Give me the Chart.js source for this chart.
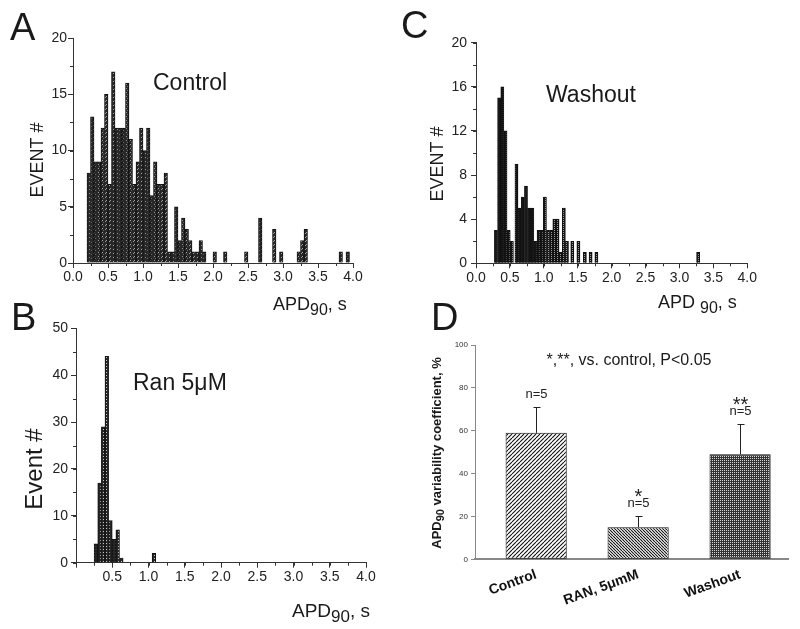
<!DOCTYPE html>
<html>
<head>
<meta charset="utf-8">
<script src="https://cdn.jsdelivr.net/npm/chart.js@4.4.0/dist/chart.umd.min.js"></script>
<style>
  body { margin: 0; background: #fff; }
  #wrap { position: relative; width: 800px; height: 629px; overflow: hidden; }
  canvas { position: absolute; }
</style>
</head>
<body>
<div id="wrap">
  <canvas id="chartA" width="400" height="320" style="left:0;top:0"></canvas>
  <canvas id="chartC" width="400" height="320" style="left:400px;top:0"></canvas>
  <canvas id="chartB" width="400" height="339" style="left:0;top:290px"></canvas>
  <canvas id="chartD" width="400" height="339" style="left:400px;top:290px"></canvas>
</div>
<script>
// ---- data ----
// panel A, control: bin centres (s) and event counts
var controlCenters = [0.225, 0.275, 0.325, 0.375, 0.425, 0.475, 0.525, 0.575, 0.625, 0.675,
  0.725, 0.775, 0.825, 0.875, 0.925, 0.975, 1.025, 1.075, 1.125, 1.175,
  1.225, 1.275, 1.325, 1.375, 1.425, 1.475, 1.525, 1.575, 1.625, 1.675,
  1.725, 1.775, 1.825, 1.875, 2.025, 2.175, 2.475, 2.675, 2.875, 2.975,
  3.225, 3.275, 3.325, 3.825, 3.925];
var controlCounts = [8, 13, 9, 9, 12, 15, 7, 17, 12, 12,
  12, 16, 11, 7, 9, 12, 10, 12, 6, 9,
  7, 7, 8, 1, 1, 5, 2, 4, 3, 2,
  1, 1, 2, 1, 1, 1, 1, 4, 3, 1,
  1, 2, 3, 1, 1];

// panel B, ranolazine 5 uM
var ranCenters = [0.275, 0.325, 0.375, 0.425, 0.475, 0.525, 0.575, 0.625, 1.075];
var ranCounts = [4, 17, 29, 44, 9, 5, 7, 1, 2];

// panel C, washout
var washoutCenters = [0.294, 0.341, 0.388, 0.435, 0.482, 0.529,
  0.597, 0.644, 0.690, 0.737, 0.783, 0.830, 0.876, 0.923, 0.969, 1.016,
  1.062, 1.109, 1.155, 1.202, 1.248, 1.295, 1.341,
  1.420, 1.510, 1.605, 1.690, 1.775, 3.275];
var washoutCounts = [3, 15, 16, 12, 3, 2,
  9, 5, 6, 7, 5, 5, 2, 3, 3, 6,
  3, 3, 4, 4, 1, 5, 2,
  2, 2, 1, 1, 1, 1];

// axis ticks
var apdTicks = [0, 0.5, 1, 1.5, 2, 2.5, 3, 3.5, 4];
var yTicksA = [0, 5, 10, 15, 20];
var yTicksB = [0, 10, 20, 30, 40, 50];
var yTicksC = [0, 4, 8, 12, 16, 20];

// panel D, variability coefficient
var dLabels = ['Control', 'RAN, 5\u03bcmM', 'Washout'];
var dMeans = [59, 15, 49];
var dSem = [12, 5.3, 14];
var dN = [5, 5, 5];
var dStars = ['', '*', '**'];
var yTicksD = [0, 20, 40, 60, 80, 100];

// ---- helpers ----
var FONT = 'Liberation Sans, Arial, Helvetica, sans-serif';

function pattern(w, h, draw) {
  var c = document.createElement('canvas');
  c.width = w; c.height = h;
  var g = c.getContext('2d');
  draw(g);
  return g.createPattern(c, 'repeat');
}

// dark histogram fills
var fillControl = pattern(4, 4, function (g) {
  g.fillStyle = '#262626'; g.fillRect(0, 0, 4, 4);
  g.fillStyle = '#a8a8a8'; g.fillRect(2, 0, 1, 1); g.fillRect(1, 1, 1, 1);
  g.fillStyle = '#6a6a6a'; g.fillRect(3, 2, 1, 1);
});
var fillRan = pattern(3, 3, function (g) {
  g.fillStyle = '#262626'; g.fillRect(0, 0, 3, 3);
  g.fillStyle = '#c8c8c8'; g.fillRect(1, 1, 1, 1);
});
var fillWash = pattern(3, 2, function (g) {
  g.fillStyle = '#151515'; g.fillRect(0, 0, 3, 2);
  g.fillStyle = '#9a9a9a'; g.fillRect(1, 0, 1, 1);
});

function stripes(step, dir, lineColor) {
  return pattern(step, step, function (g) {
    g.fillStyle = '#fff'; g.fillRect(0, 0, step, step);
    g.strokeStyle = lineColor; g.lineWidth = 1.1;
    g.beginPath();
    for (var k = -1; k <= 1; k++) {
      if (dir > 0) { g.moveTo(k * step, step); g.lineTo(k * step + step, 0); }
      else { g.moveTo(k * step, 0); g.lineTo(k * step + step, step); }
    }
    g.stroke();
  });
}
var fillDControl = stripes(4, 1, '#111');
var fillDRan = stripes(3, -1, '#111');
var fillDWash = pattern(2, 2, function (g) {
  g.fillStyle = '#333'; g.fillRect(0, 0, 2, 2);
  g.fillStyle = '#d8d8d8'; g.fillRect(0, 0, 1, 1);
});

// text with optional subscript parts: parts = [[text, isSub], ...]
function drawRich(ctx, it) {
  var size = it.size, sub = it.subSize || Math.round(size * 0.85);
  var weight = it.bold ? 'bold ' : '';
  var widths = [], total = 0;
  it.parts.forEach(function (p) {
    ctx.font = weight + (p[1] ? sub : size) + 'px ' + FONT;
    var w = ctx.measureText(p[0]).width;
    widths.push(w); total += w;
  });
  ctx.save();
  ctx.translate(it.x, it.y);
  if (it.rot) ctx.rotate(it.rot * Math.PI / 180);
  ctx.fillStyle = it.color || '#1a1a1a';
  ctx.textAlign = 'left';
  ctx.textBaseline = 'alphabetic';
  var x = it.align === 'center' ? -total / 2 : 0;
  it.parts.forEach(function (p, i) {
    ctx.font = weight + (p[1] ? sub : size) + 'px ' + FONT;
    ctx.fillText(p[0], x, p[1] ? (it.drop || size * 0.3) : 0);
    x += widths[i];
  });
  ctx.restore();
}

function textPlugin(items) {
  return {
    id: 'panelText',
    afterDraw: function (chart) {
      items.forEach(function (it) { drawRich(chart.ctx, it); });
    }
  };
}

function minorTicks(xStep, yStep, len) {
  return {
    id: 'minorTicks',
    afterDraw: function (chart) {
      var ctx = chart.ctx, xs = chart.scales.x, ys = chart.scales.y, v, p;
      ctx.save();
      ctx.strokeStyle = '#333';
      ctx.lineWidth = 1;
      ctx.beginPath();
      for (v = xs.min; v <= xs.max + 1e-9; v += xStep) {
        p = Math.round(xs.getPixelForValue(v)) + 0.5;
        ctx.moveTo(p, xs.top); ctx.lineTo(p, xs.top + len);
      }
      for (v = ys.min; v <= ys.max + 1e-9; v += yStep) {
        p = Math.round(ys.getPixelForValue(v)) + 0.5;
        ctx.moveTo(ys.right, p); ctx.lineTo(ys.right - len, p);
      }
      ctx.stroke();
      ctx.restore();
    }
  };
}

function histogram(id, centers, counts, fill, cfg) {
  return new Chart(document.getElementById(id), {
    type: 'bar',
    data: {
      datasets: [{
        data: centers.map(function (c, i) { return { x: c, y: counts[i] }; }),
        backgroundColor: fill,
        borderColor: '#111',
        borderWidth: 1,
        barPercentage: 1,
        categoryPercentage: 1
      }]
    },
    options: {
      animation: false,
      responsive: false,
      layout: { padding: { top: cfg.top, right: cfg.right, left: 0, bottom: 0 } },
      plugins: { legend: { display: false }, tooltip: { enabled: false } },
      scales: {
        x: {
          type: 'linear', min: 0, max: 4, offset: false,
          afterFit: function (s) { s.height = cfg.xH; },
          afterBuildTicks: function (s) { s.ticks = apdTicks.map(function (v) { return { value: v }; }); },
          ticks: {
            autoSkip: false, maxRotation: 0, padding: 1, color: '#222',
            font: { family: FONT, size: 14 },
            callback: function (v) { return (cfg.hideZero && v === 0) ? '' : v.toFixed(1); }
          },
          grid: { drawOnChartArea: false, offset: false, tickLength: 5, tickColor: '#333' },
          border: { color: '#333', width: 1 }
        },
        y: {
          min: 0, max: cfg.yMax,
          afterFit: function (s) { s.width = cfg.yW; },
          afterBuildTicks: function (s) { s.ticks = cfg.yTicks.map(function (v) { return { value: v }; }); },
          ticks: { padding: cfg.yPad, color: '#222', font: { family: FONT, size: 14 } },
          grid: { drawOnChartArea: false, tickLength: 5, tickColor: '#333' },
          border: { color: '#333', width: 1 }
        }
      }
    },
    plugins: [minorTicks(0.25, cfg.yMinor, 3), textPlugin(cfg.texts)]
  });
}

// ---- panel A ----
histogram('chartA', controlCenters, controlCounts, fillControl, {
  top: 38, right: 47, xH: 57, yW: 73, yMax: 20, yTicks: yTicksA, yMinor: 2.5, yPad: 1,
  texts: [
    { parts: [['A']], size: 38, x: 10, y: 40 },
    { parts: [['Control']], size: 23, x: 153, y: 90 },
    { parts: [['EVENT #']], size: 18, x: 43, y: 160, rot: -90, align: 'center' },
    { parts: [['APD'], ['90', 1], [', s']], size: 18, subSize: 16, drop: 5, x: 273, y: 310 }
  ]
});

// ---- panel C ----
histogram('chartC', washoutCenters, washoutCounts, fillWash, {
  top: 42.7, right: 52.7, xH: 56.7, yW: 76, yMax: 20, yTicks: yTicksC, yMinor: 2, yPad: 4,
  texts: [
    { parts: [['C']], size: 38, x: 1, y: 38 },
    { parts: [['Washout']], size: 23, x: 146, y: 102 },
    { parts: [['EVENT #']], size: 18, x: 43, y: 164, rot: -90, align: 'center' },
    { parts: [['APD '], ['90', 1], [', s']], size: 18, subSize: 16, drop: 5, x: 258, y: 308 }
  ]
});

// ---- panel B ----
histogram('chartB', ranCenters, ranCounts, fillRan, {
  top: 38.3, right: 34, xH: 66.3, yW: 76, yMax: 50, yTicks: yTicksB, yMinor: 5, yPad: 3, hideZero: true,
  texts: [
    { parts: [['B']], size: 38, x: 11, y: 40 },
    { parts: [['Ran 5\u03bcM']], size: 23, x: 133, y: 100 },
    { parts: [['Event #']], size: 24, x: 42, y: 179, rot: -90, align: 'center' },
    { parts: [['APD'], ['90', 1], [', s']], size: 19, subSize: 17, drop: 5, x: 292, y: 327 }
  ]
});

// ---- panel D ----
var dErrors = {
  id: 'dErrors',
  afterDatasetsDraw: function (chart) {
    var ctx = chart.ctx, xs = chart.scales.x, ys = chart.scales.y;
    ctx.save();
    dMeans.forEach(function (m, i) {
      var x = Math.round(xs.getPixelForValue(i)) + 0.5;
      var y0 = ys.getPixelForValue(m), y1 = Math.round(ys.getPixelForValue(m + dSem[i])) + 0.5;
      ctx.strokeStyle = '#222';
      ctx.lineWidth = 1;
      ctx.beginPath();
      ctx.moveTo(x, y0); ctx.lineTo(x, y1);
      ctx.moveTo(x - 3, y1); ctx.lineTo(x + 4, y1);
      ctx.stroke();
      var nb = y1 - 10;
      drawRich(ctx, { parts: [['n=' + dN[i]]], size: 13, x: x, y: nb, align: 'center', color: '#222' });
      if (dStars[i]) drawRich(ctx, { parts: [[dStars[i]]], size: 20, x: x, y: nb - 4, align: 'center', color: '#222' });
    });
    ctx.restore();
  }
};

new Chart(document.getElementById('chartD'), {
  type: 'bar',
  data: {
    datasets: [{
      data: dMeans.map(function (m, i) { return { x: i, y: m }; }),
      backgroundColor: [fillDControl, fillDRan, fillDWash],
      borderColor: '#111',
      borderWidth: 1,
      borderSkipped: false,
      barPercentage: 0.6,
      categoryPercentage: 1
    }]
  },
  options: {
    animation: false,
    responsive: false,
    layout: { padding: { top: 55, right: 12, left: 0, bottom: 0 } },
    plugins: { legend: { display: false }, tooltip: { enabled: false } },
    scales: {
      x: {
        type: 'linear', min: -0.6, max: 2.47, offset: false,
        afterFit: function (s) { s.height = 69.7; },
        afterBuildTicks: function (s) { s.ticks = dLabels.map(function (l, i) { return { value: i }; }); },
        ticks: {
          autoSkip: false, minRotation: 20, maxRotation: 20, padding: 7, color: '#111',
          font: { family: FONT, size: 14, weight: 'bold' },
          callback: function (v) { return dLabels[v]; }
        },
        grid: { display: false, drawTicks: false },
        border: { color: '#888', width: 2 }
      },
      y: {
        min: 0, max: 100,
        afterFit: function (s) { s.width = 75; },
        afterBuildTicks: function (s) { s.ticks = yTicksD.map(function (v) { return { value: v }; }); },
        ticks: { padding: 3, color: '#333', font: { family: FONT, size: 8 } },
        grid: { drawOnChartArea: false, tickLength: 4, tickColor: '#888' },
        border: { color: '#888', width: 1 }
      }
    }
  },
  plugins: [dErrors, textPlugin([
    { parts: [['D']], size: 38, x: 31, y: 40 },
    { parts: [['*,**, vs. control, P<0.05']], size: 16, x: 229, y: 75, align: 'center' },
    { parts: [['APD'], ['90', 1], [' variability coefficient, %']], size: 13, subSize: 11, drop: 3, bold: true,
      x: 41, y: 163, rot: -90, align: 'center' }
  ])]
});
</script>
</body>
</html>
